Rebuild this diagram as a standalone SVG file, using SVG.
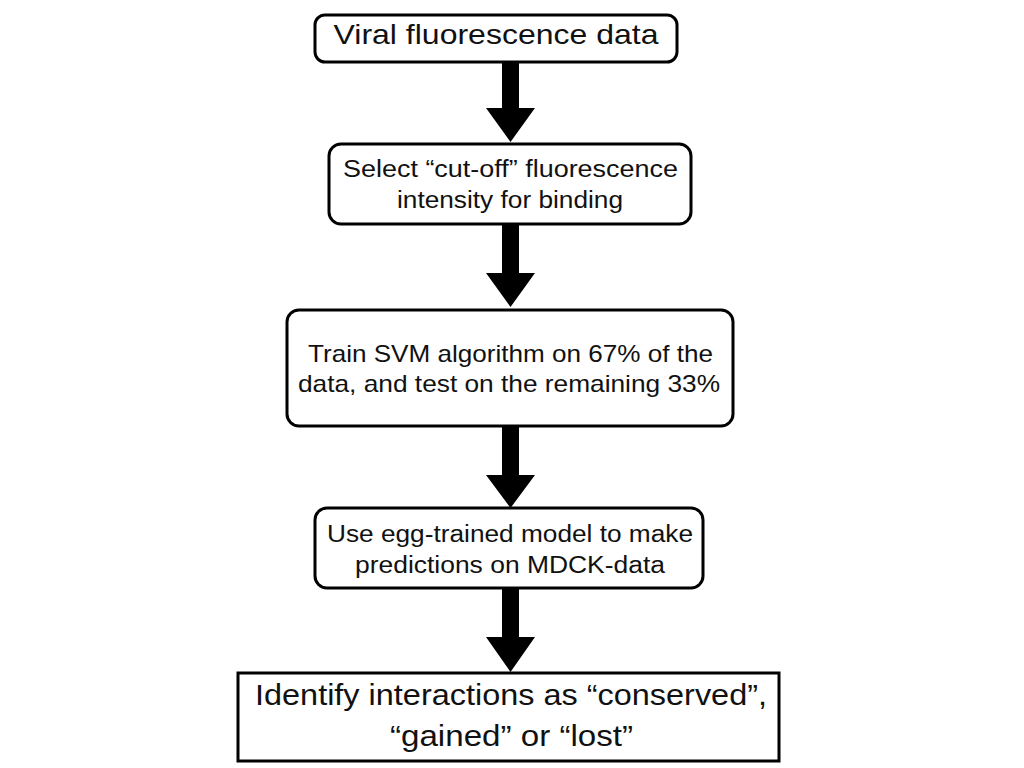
<svg xmlns="http://www.w3.org/2000/svg" width="1024" height="768" viewBox="0 0 1024 768">
  <style>
    .box { fill: #ffffff; stroke: #000000; stroke-width: 3; }
    .lbl { font-family: "Liberation Sans", Arial, sans-serif; fill: #111111; text-anchor: middle; }
    .s23 { font-size: 23px; }
    .s24 { font-size: 24px; }
    .s28 { font-size: 28px; }
    .s29 { font-size: 29px; }
    .arrow { fill: #000000; stroke: none; }
  </style>
  <rect x="0" y="0" width="1024" height="768" fill="#ffffff"/>

  <g id="connectors">
    <polygon class="arrow" points="502,62 519,62 519,108 535,108 510.5,142 486,108 502,108"/>
    <polygon class="arrow" points="502,224 519,224 519,273 535,273 510.5,307 486,273 502,273"/>
    <polygon class="arrow" points="502,426 519,426 519,475 535,475 510.5,508 486,475 502,475"/>
    <polygon class="arrow" points="502,588 519,588 519,637 535,637 510.5,672 486,637 502,637"/>
  </g>

  <g id="node-viral-data">
    <rect class="box" x="315" y="15" width="362" height="47" rx="10" ry="10"/>
    <text class="lbl s28" x="496" y="44" textLength="325" lengthAdjust="spacingAndGlyphs">Viral fluorescence data</text>
  </g>

  <g id="node-cutoff">
    <rect class="box" x="329" y="144" width="362" height="80" rx="12" ry="12"/>
    <text class="lbl s23" x="510.5" y="177" textLength="335" lengthAdjust="spacingAndGlyphs">Select “cut-off” fluorescence</text>
    <text class="lbl s23" x="510" y="208" textLength="226" lengthAdjust="spacingAndGlyphs">intensity for binding</text>
  </g>

  <g id="node-train-svm">
    <rect class="box" x="287" y="310" width="446" height="116" rx="12" ry="12"/>
    <text class="lbl s24" x="510.5" y="362" textLength="405" lengthAdjust="spacingAndGlyphs">Train SVM algorithm on 67% of the</text>
    <text class="lbl s24" x="509" y="392" textLength="422" lengthAdjust="spacingAndGlyphs">data, and test on the remaining 33%</text>
  </g>

  <g id="node-predict">
    <rect class="box" x="315" y="508" width="388" height="80" rx="12" ry="12"/>
    <text class="lbl s23" x="510" y="542" textLength="366" lengthAdjust="spacingAndGlyphs">Use egg-trained model to make</text>
    <text class="lbl s23" x="510" y="573" textLength="310" lengthAdjust="spacingAndGlyphs">predictions on MDCK-data</text>
  </g>

  <g id="node-identify">
    <rect class="box" x="238" y="673" width="541" height="88"/>
    <text class="lbl s29" x="511" y="705" textLength="512" lengthAdjust="spacingAndGlyphs">Identify interactions as “conserved”,</text>
    <text class="lbl s29" x="511.5" y="746" textLength="243" lengthAdjust="spacingAndGlyphs">“gained” or “lost”</text>
  </g>
</svg>
